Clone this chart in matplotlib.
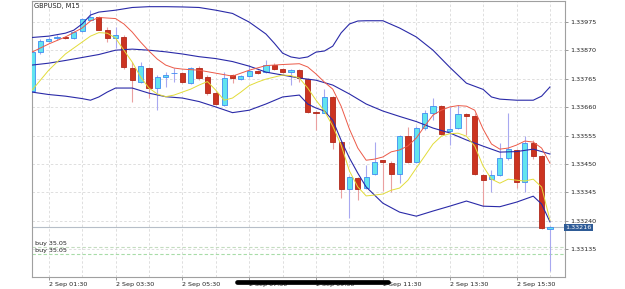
import numpy as np
import pandas as pd
import matplotlib
matplotlib.use('Agg')
import matplotlib.pyplot as plt
from matplotlib.lines import Line2D

SYMBOL = 'GBPUSD, M15'
FIRST_BAR = '2024-09-02 01:00'

# candles (M15)
opens = [1.33719, 1.33864, 1.33905, 1.33916, 1.33920, 1.33915, 1.33942, 1.33984, 1.33992, 1.33947,
         1.33915, 1.33921, 1.33804, 1.33754, 1.33804, 1.33730, 1.33773, 1.33785, 1.33785, 1.33750,
         1.33804, 1.33773, 1.33713, 1.33670, 1.33779, 1.33763, 1.33775, 1.33794, 1.33790, 1.33816,
         1.33800, 1.33790, 1.33797, 1.33764, 1.33642, 1.33640, 1.33699, 1.33532, 1.33356, 1.33397,
         1.33360, 1.33413, 1.33463, 1.33455, 1.33412, 1.33553, 1.33458, 1.33585, 1.33637, 1.33664,
         1.33572, 1.33582, 1.33635, 1.33627, 1.33409, 1.33394, 1.33409, 1.33474, 1.33501, 1.33384,
         1.33528, 1.33479, 1.33210]
closes = [1.33864, 1.33905, 1.33912, 1.33920, 1.33916, 1.33940, 1.33986, 1.33993, 1.33947, 1.33915,
          1.33927, 1.33807, 1.33760, 1.33812, 1.33730, 1.33773, 1.33781, 1.33786, 1.33754, 1.33804,
          1.33770, 1.33713, 1.33673, 1.33770, 1.33767, 1.33775, 1.33794, 1.33785, 1.33816, 1.33800,
          1.33790, 1.33797, 1.33767, 1.33642, 1.33639, 1.33699, 1.33532, 1.33356, 1.33402, 1.33356,
          1.33403, 1.33458, 1.33457, 1.33412, 1.33553, 1.33458, 1.33585, 1.33637, 1.33664, 1.33561,
          1.33578, 1.33635, 1.33627, 1.33413, 1.33390, 1.33408, 1.33474, 1.33504, 1.33384, 1.33528,
          1.33480, 1.33212, 1.33216]
highs = [1.33871, 1.33912, 1.33920, 1.33929, 1.33923, 1.33942, 1.33990, 1.34019, 1.33997, 1.33957,
         1.33958, 1.33927, 1.33828, 1.33829, 1.33808, 1.33779, 1.33790, 1.33805, 1.33790, 1.33808,
         1.33812, 1.33779, 1.33720, 1.33791, 1.33783, 1.33779, 1.33816, 1.33797, 1.33834, 1.33823,
         1.33805, 1.33801, 1.33801, 1.33768, 1.33646, 1.33727, 1.33703, 1.33535, 1.33405, 1.33402,
         1.33446, 1.33532, 1.33466, 1.33461, 1.33557, 1.33588, 1.33590, 1.33649, 1.33693, 1.33668,
         1.33661, 1.33668, 1.33638, 1.33638, 1.33413, 1.33427, 1.33528, 1.33638, 1.33505, 1.33553,
         1.33538, 1.33483, 1.33220]
lows = [1.33712, 1.33857, 1.33901, 1.33910, 1.33912, 1.33912, 1.33938, 1.33982, 1.33945, 1.33901,
        1.33879, 1.33800, 1.33680, 1.33749, 1.33694, 1.33649, 1.33736, 1.33753, 1.33749, 1.33746,
        1.33760, 1.33705, 1.33668, 1.33664, 1.33749, 1.33760, 1.33772, 1.33783, 1.33786, 1.33797,
        1.33786, 1.33742, 1.33754, 1.33638, 1.33575, 1.33638, 1.33505, 1.33324, 1.33250, 1.33316,
        1.33357, 1.33409, 1.33350, 1.33347, 1.33380, 1.33453, 1.33453, 1.33575, 1.33612, 1.33557,
        1.33520, 1.33579, 1.33557, 1.33409, 1.33294, 1.33347, 1.33405, 1.33464, 1.33360, 1.33347,
        1.33470, 1.33209, 1.33055]

# indicator lines, read at some of the bars
upper_bars = [0, 2, 4, 5, 6, 7, 8, 10, 12, 14, 16, 18, 20, 22, 24, 26, 27, 28, 29, 30, 31, 32, 33,
              34, 35, 36, 37, 38, 39, 40, 42, 44, 46, 48, 50, 52, 54, 55, 56, 58, 60, 61, 62]
upper_band = [1.33918, 1.33923, 1.33934, 1.33945, 1.33968, 1.34001, 1.34012, 1.34019, 1.34029, 1.34032,
              1.34032, 1.34031, 1.34029, 1.34019, 1.34007, 1.33975, 1.33953, 1.33931, 1.33897, 1.33860,
              1.33846, 1.33841, 1.33846, 1.33864, 1.33868, 1.33886, 1.33935, 1.33968, 1.33979, 1.33980,
              1.33980, 1.33953, 1.33920, 1.33871, 1.33808, 1.33749, 1.33726, 1.33698, 1.33690, 1.33686,
              1.33686, 1.33701, 1.33735]

middle_bars = [0, 2, 4, 6, 8, 10, 12, 14, 16, 18, 20, 22, 24, 26, 28, 30, 32, 34, 36, 38, 40,
               42, 44, 46, 48, 50, 52, 54, 56, 58, 60, 62]
middle_band = [1.33816, 1.33823, 1.33833, 1.33844, 1.33855, 1.33871, 1.33875, 1.33871, 1.33865, 1.33857,
               1.33847, 1.33840, 1.33829, 1.33812, 1.33790, 1.33779, 1.33768, 1.33760, 1.33742, 1.33709,
               1.33672, 1.33646, 1.33626, 1.33607, 1.33583, 1.33565, 1.33539, 1.33516, 1.33494, 1.33496,
               1.33505, 1.33487]

lower_bars = [0, 2, 4, 6, 7, 8, 9, 10, 12, 14, 16, 18, 20, 22, 24, 26, 28, 30, 32, 33, 34, 35, 36,
              37, 38, 39, 40, 42, 44, 46, 48, 50, 52, 54, 56, 58, 60, 61, 62]
lower_band = [1.33716, 1.33707, 1.33701, 1.33692, 1.33686, 1.33698, 1.33716, 1.33731, 1.33731, 1.33712,
              1.33699, 1.33694, 1.33681, 1.33661, 1.33640, 1.33649, 1.33672, 1.33698, 1.33705, 1.33672,
              1.33657, 1.33646, 1.33612, 1.33538, 1.33472, 1.33416, 1.33365, 1.33305, 1.33272, 1.33257,
              1.33276, 1.33294, 1.33313, 1.33294, 1.33292, 1.33309, 1.33331, 1.33302, 1.33236]

red_bars = [0, 2, 4, 6, 7, 8, 10, 11, 12, 13, 14, 15, 16, 17, 18, 20, 22, 24, 25, 26, 28, 30, 32,
            33, 34, 35, 36, 37, 38, 39, 40, 41, 42, 43, 44, 45, 46, 47, 48, 49, 50, 51, 52, 53, 54,
            55, 56, 57, 58, 59, 60, 61, 62]
red_ma = [1.33864, 1.33894, 1.33920, 1.33953, 1.33979, 1.33992, 1.33988, 1.33968, 1.33938, 1.33901,
          1.33868, 1.33838, 1.33816, 1.33805, 1.33801, 1.33797, 1.33786, 1.33775, 1.33786, 1.33797,
          1.33814, 1.33818, 1.33821, 1.33809, 1.33783, 1.33753, 1.33727, 1.33664, 1.33579, 1.33509,
          1.33464, 1.33468, 1.33476, 1.33495, 1.33502, 1.33517, 1.33546, 1.33590, 1.33631, 1.33649,
          1.33661, 1.33666, 1.33664, 1.33649, 1.33579, 1.33524, 1.33505, 1.33509, 1.33520, 1.33535,
          1.33531, 1.33509, 1.33453]

yellow_bars = [0, 1, 2, 3, 4, 5, 6, 7, 8, 9, 10, 11, 12, 13, 14, 15, 16, 17, 18, 19, 20, 21, 22,
               23, 24, 25, 26, 27, 28, 30, 31, 32, 33, 34, 35, 36, 37, 38, 39, 40, 41, 42, 43, 44,
               45, 46, 47, 48, 49, 50, 51, 52, 53, 54, 55, 56, 57, 58, 59, 60, 61, 62]
yellow_ma = [1.33723, 1.33760, 1.33797, 1.33827, 1.33857, 1.33879, 1.33901, 1.33923, 1.33936, 1.33934,
             1.33916, 1.33871, 1.33827, 1.33772, 1.33731, 1.33709, 1.33699, 1.33705, 1.33716, 1.33727,
             1.33742, 1.33755, 1.33723, 1.33686, 1.33694, 1.33716, 1.33740, 1.33753, 1.33764, 1.33779,
             1.33777, 1.33768, 1.33731, 1.33686, 1.33646, 1.33590, 1.33520, 1.33424, 1.33365, 1.33332,
             1.33335, 1.33339, 1.33353, 1.33361, 1.33390, 1.33435, 1.33479, 1.33524, 1.33553, 1.33562,
             1.33564, 1.33553, 1.33516, 1.33442, 1.33394, 1.33379, 1.33394, 1.33390, 1.33387, 1.33394,
             1.33365, 1.33242]

price_ticks = [1.33975, 1.33870, 1.33765, 1.33660, 1.33555, 1.33450, 1.33345, 1.33240, 1.33135]
bid_price = 1.33216
order_levels = [1.33144, 1.33117]
order_labels = ['buy 35.05', 'buy 35.05']

RED_BODY = '#cc3320'
RED_EDGE = '#b0281a'
RED_WICK = '#eaa0a0'
CYAN_BODY = '#62e4ee'
CYAN_EDGE = '#3f8cf2'
CYAN_WICK = '#a8a8f0'
BAND = '#2a2aa8'
GRID = '#d9d9d9'
FONT = 4.6

plt.rcParams['font.family'] = ['DejaVu Sans']

times = pd.date_range(FIRST_BAR, periods=len(opens), freq='15min')
x = np.arange(len(opens))
o = np.array(opens)
c = np.array(closes)
up = c >= o

fig = plt.figure(figsize=(6.25, 2.89), dpi=100)
ax = fig.add_axes([32 / 625, 12 / 289, 533 / 625, 276 / 289])

# grid: every hour (vertical), every price label (horizontal)
hour_bars = [i for i, t in enumerate(times) if t.minute == 30]
for i in hour_bars:
    ax.axvline(i, color=GRID, lw=0.6, dashes=(3, 2.5), zorder=0)
for p in price_ticks:
    ax.axhline(p, color=GRID, lw=0.6, dashes=(3, 2.5), zorder=0)

# candles
ax.vlines(x[up], np.array(lows)[up], np.array(highs)[up], color=CYAN_WICK, lw=0.8, zorder=2)
ax.vlines(x[~up], np.array(lows)[~up], np.array(highs)[~up], color=RED_WICK, lw=0.8, zorder=2)
bottoms = np.minimum(o, c)
heights = np.maximum(np.abs(c - o), 0.00001)
ax.bar(x[up], heights[up], bottom=bottoms[up], width=0.62, color=CYAN_BODY,
       edgecolor=CYAN_EDGE, linewidth=0.6, zorder=3)
ax.bar(x[~up], heights[~up], bottom=bottoms[~up], width=0.62, color=RED_BODY,
       edgecolor=RED_EDGE, linewidth=0.6, zorder=3)

# indicators
ax.plot(upper_bars, upper_band, color=BAND, lw=0.8, zorder=4)
ax.plot(middle_bars, middle_band, color=BAND, lw=0.8, zorder=4)
ax.plot(lower_bars, lower_band, color=BAND, lw=0.8, zorder=4)
ax.plot(red_bars, red_ma, color='#ec5a48', lw=0.7, zorder=4)
ax.plot(yellow_bars, yellow_ma, color='#e2dc3a', lw=0.7, zorder=4)

# bid line and orders
ax.axhline(bid_price, color='#b6bec8', lw=0.8, zorder=1)
for lvl, lab, col in zip(order_levels, order_labels, ['#c4dcc0', '#a8dca8']):
    ax.axhline(lvl, color=col, lw=0.8, dashes=(3, 2), zorder=1)
    ax.annotate(lab, (0, lvl), xycoords=('axes fraction', 'data'), xytext=(2, 0.6),
                textcoords='offset points', fontsize=FONT, va='bottom', ha='left', color='#222222')

ax.text(0.004, 0.992, SYMBOL, transform=ax.transAxes, fontsize=FONT + 0.2, va='top', ha='left',
        color='#222222')

ax.set_xlim(0, 63.8)
ax.set_ylim(1.33032, 1.34053)

ax.yaxis.tick_right()
ax.set_yticks(price_ticks)
ax.set_yticklabels(['%.5f' % p for p in price_ticks])
label_bars = [i for i, t in enumerate(times) if t.minute == 30 and t.hour % 2 == 1]
ax.set_xticks(label_bars)
ax.set_xticklabels([times[i].strftime('%-d %b %H:%M') for i in label_bars])
for lab in ax.get_xticklabels():
    lab.set_ha('left')
ax.tick_params(axis='both', labelsize=FONT, colors='#888888', labelcolor='#222222',
               length=2, width=0.6, pad=1.5)

ax.text(1.0, bid_price, '%.5f' % bid_price, transform=ax.get_yaxis_transform(), fontsize=FONT,
        color='white', va='center', ha='left', zorder=6,
        bbox=dict(boxstyle='square,pad=0.18', facecolor='#2e5b96', edgecolor='none'))

for s in ax.spines.values():
    s.set_color('#a0a0a0')
    s.set_linewidth(0.8)

# phone home-indicator bar over the bottom of the screenshot
fig.add_artist(Line2D([237 / 625, 388 / 625], [7 / 289, 7 / 289], transform=fig.transFigure,
                      color='black', lw=3.4, solid_capstyle='round'))

fig.savefig('out.png', dpi=100)
